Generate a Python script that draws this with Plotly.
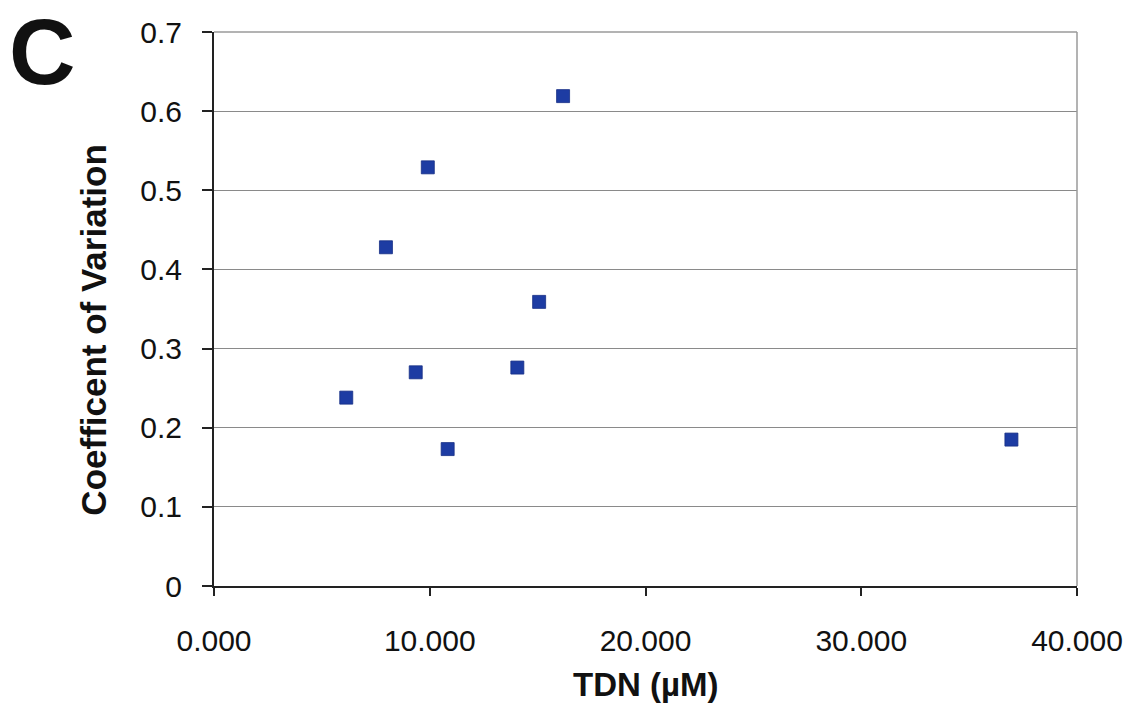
import plotly.graph_objects as go

# TDN concentration (µM) and coefficient of variation per sample
tdn_um = [6.13, 7.97, 9.91, 9.35, 10.83, 14.06, 15.07, 16.18, 36.96]
coef_var = [0.238, 0.428, 0.529, 0.270, 0.173, 0.276, 0.359, 0.619, 0.185]

x_ticks = [0, 10, 20, 30, 40]
x_tick_labels = ["0.000", "10.000", "20.000", "30.000", "40.000"]
y_ticks = [0, 0.1, 0.2, 0.3, 0.4, 0.5, 0.6, 0.7]
y_tick_labels = ["0", "0.1", "0.2", "0.3", "0.4", "0.5", "0.6", "0.7"]

FONT = "Liberation Sans, Arial, sans-serif"
INK = "#111111"

fig = go.Figure()
fig.add_trace(go.Scatter(
    x=tdn_um, y=coef_var, mode="markers",
    marker=dict(symbol="square", size=13, color="#1d3ca3",
                line=dict(width=0.8, color="#162f85")),
    showlegend=False,
))

fig.update_layout(
    width=1135, height=708,
    margin=dict(l=214, r=52, t=32, b=122),
    paper_bgcolor="white", plot_bgcolor="white",
    font=dict(family=FONT, color=INK),
    xaxis=dict(
        range=[0, 40], tickvals=x_ticks, ticktext=x_tick_labels,
        ticks="outside", ticklen=8, tickcolor="#222222", tickwidth=1.5,
        tickfont=dict(size=30), ticklabelstandoff=19,
        showline=True, linecolor="#222222", linewidth=2,
        showgrid=False, zeroline=False, mirror=False,
    ),
    yaxis=dict(
        range=[0, 0.7], tickvals=y_ticks, ticktext=y_tick_labels,
        ticks="outside", ticklen=10, tickcolor="#222222", tickwidth=1.5,
        tickfont=dict(size=30), ticklabelstandoff=14,
        showline=True, linecolor="#222222", linewidth=2,
        showgrid=True, gridcolor="#8a8a8a", gridwidth=1.2,
        zeroline=False,
    ),
)

# Grey frame on the top and right sides of the plot area
fig.add_shape(type="line", xref="paper", yref="paper", x0=0, x1=1, y0=1, y1=1,
              line=dict(color="#9a9a9a", width=1.5))
fig.add_shape(type="line", xref="paper", yref="paper", x0=1, x1=1, y0=0, y1=1,
              line=dict(color="#9a9a9a", width=1.5))

# Axis titles
fig.add_annotation(text="<b>TDN (µM)</b>", xref="paper", yref="paper",
                   x=0.5, y=-0.177, xanchor="center", yanchor="middle",
                   showarrow=False, font=dict(size=33, family=FONT, color=INK))
fig.add_annotation(text="<b>Coefficent of Variation</b>", xref="paper", yref="paper",
                   x=-0.139, y=0.461, xanchor="center", yanchor="middle",
                   textangle=-90, showarrow=False,
                   font=dict(size=35, family=FONT, color=INK))

# Panel letter
fig.add_annotation(text="<b>C</b>", xref="paper", yref="paper",
                   x=-0.2385, y=1.0578, xanchor="left", yanchor="top",
                   borderpad=0,
                   showarrow=False, font=dict(size=92, family=FONT, color=INK))

fig.write_html("out.html")
